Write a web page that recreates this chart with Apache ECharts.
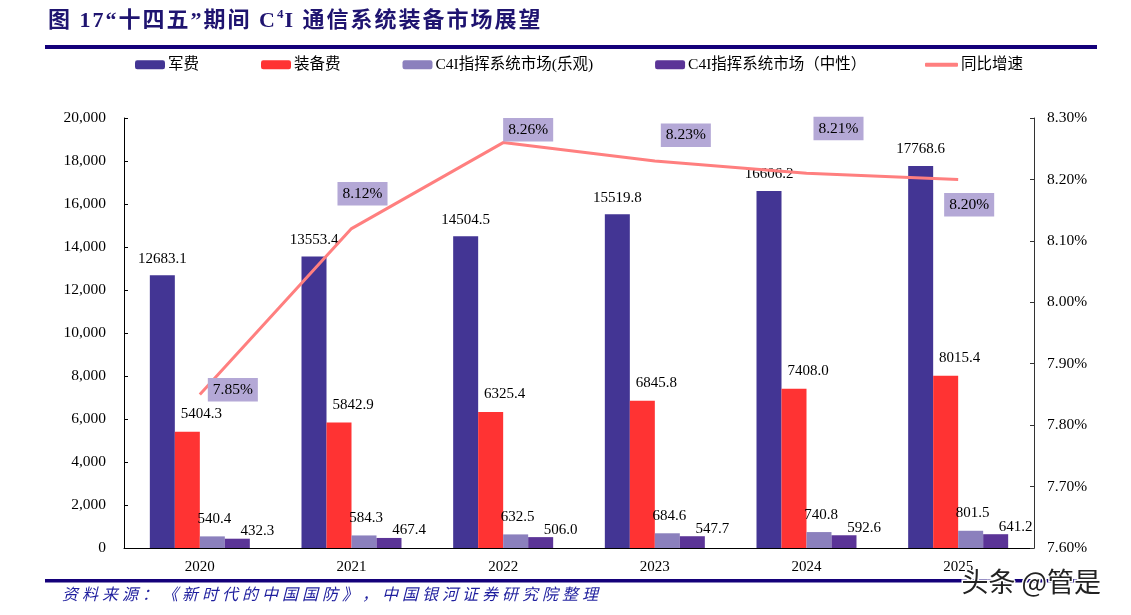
<!DOCTYPE html>
<html>
<head>
<meta charset="utf-8">
<script src="https://cdn.jsdelivr.net/npm/echarts@6/dist/echarts.min.js"></script>
<style>html,body{margin:0;padding:0;background:#fff}#c{width:1131px;height:615px}</style>
</head>
<body>
<div id="c"></div>
<script>
const categories = ['2020','2021','2022','2023','2024','2025'];
const militaryExp = [12683.1, 13553.4, 14504.5, 15519.8, 16606.2, 17768.6];
const equipmentExp = [5404.3, 5842.9, 6325.4, 6845.8, 7408.0, 8015.4];
const c4iOptimistic = [540.4, 584.3, 632.5, 684.6, 740.8, 801.5];
const c4iNeutral = [432.3, 467.4, 506.0, 547.7, 592.6, 641.2];
const yoyGrowth = [7.85, 8.12, 8.26, 8.23, 8.21, 8.20];
const seriesNames = ['军费','装备费','C4I指挥系统市场(乐观)','C4I指挥系统市场（中性）','同比增速'];
const titleBefore = '图 17“十四五”期间 C';
const titleSup = '4';
const titleAfter = 'I 通信系统装备市场展望';
const sourceText = '资料来源：《新时代的中国国防》，中国银河证券研究院整理';
const watermarkText = '头条 @管是';

const serif = "'Liberation Serif','Times New Roman','Noto Sans CJK SC',serif";
const lineLabelOffsets = [[33,12],[11,-18],[25,4],[31,-9],[32,-28],[11,42]];

// spaced rich text: one token per character
const spaced = (s, key) => Array.from(s).map(ch => '{' + key + '|' + ch + '}').join('');

const chart = echarts.init(document.getElementById('c'));
const barLabel = (dx, dist) => ({
  show: true, position: 'top', distance: dist, offset: [dx, 0],
  fontFamily: serif, fontSize: 15, color: '#000',
  formatter: p => p.value.toFixed(1)
});
const legendText = {fontFamily: serif, fontSize: 15.5, color: '#000', padding: [0,0,0,-2]};
chart.setOption({
  animation: false,
  grid: {left: 124, right: 97, top: 118, bottom: 67},
  legend: [{
    left: 135, top: 57, padding: 0, itemWidth: 30, itemHeight: 9, itemGap: 62,
    textStyle: legendText, data: seriesNames.slice(0,4)
  },{
    left: 925, top: 57, padding: 0, itemWidth: 33, itemHeight: 4,
    textStyle: legendText, data: [{name: seriesNames[4], icon: 'roundRect'}]
  }],
  xAxis: {
    type: 'category', data: categories,
    axisLine: {lineStyle: {color: '#000', width: 1}},
    axisTick: {inside: true, length: 5, lineStyle: {color: '#000'}},
    axisLabel: {fontFamily: serif, fontSize: 15, color: '#000', margin: 12}
  },
  yAxis: [{
    type: 'value', min: 0, max: 20000, interval: 2000,
    axisLine: {show: true, lineStyle: {color: '#000'}},
    axisTick: {show: true, inside: true, length: 4, lineStyle: {color: '#000'}},
    splitLine: {show: false},
    axisLabel: {fontFamily: serif, fontSize: 15.5, color: '#000', margin: 18,
      formatter: v => v.toLocaleString('en-US')}
  },{
    type: 'value', min: 7.6, max: 8.3, interval: 0.1,
    axisLine: {show: true, lineStyle: {color: '#333'}},
    axisTick: {show: true, inside: true, length: 4, lineStyle: {color: '#333'}},
    splitLine: {show: false},
    axisLabel: {fontFamily: serif, fontSize: 15.5, color: '#000', margin: 13,
      formatter: v => v.toFixed(2) + '%'}
  }],
  series: [
    {name: seriesNames[0], type: 'bar', data: militaryExp, barWidth: 25, barGap: '0%',
     itemStyle: {color: '#433594'}, label: barLabel(0, 9)},
    {name: seriesNames[1], type: 'bar', data: equipmentExp, barWidth: 25, barGap: '0%',
     itemStyle: {color: '#FF3333'}, label: barLabel(14, 10)},
    {name: seriesNames[2], type: 'bar', data: c4iOptimistic, barWidth: 25, barGap: '0%',
     itemStyle: {color: '#8B80BD'}, label: barLabel(2, 10)},
    {name: seriesNames[3], type: 'bar', data: c4iNeutral, barWidth: 25, barGap: '0%',
     itemStyle: {color: '#5B3497'}, label: barLabel(20, 0)},
    {name: seriesNames[4], type: 'line', yAxisIndex: 1, z: 5,
     data: yoyGrowth.map((v, i) => ({value: v, label: {offset: lineLabelOffsets[i]}})),
     symbol: 'circle', symbolSize: 0, showSymbol: true,
     lineStyle: {color: '#FF7F7F', width: 3}, itemStyle: {color: '#FF7F7F'},
     label: {show: true, position: 'top', distance: 5, fontFamily: serif, fontSize: 15.5,
       color: '#000', backgroundColor: '#B4A8D6', padding: [4, 5, 4, 5],
       formatter: p => p.value.toFixed(2) + '%'}}
  ],
  graphic: [
    {type: 'text', left: 48, top: 8, style: {
      text: spaced(titleBefore, 't') + '{s|' + titleSup + '}' + spaced(titleAfter, 't'),
      rich: {
        t: {fontFamily: serif, fontWeight: 'bold', fontSize: 22, fill: '#1F1470', lineHeight: 26, padding: [0,2,0,0]},
        s: {fontFamily: serif, fontWeight: 'bold', fontSize: 13, fill: '#1F1470', verticalAlign: 'top', lineHeight: 26, padding: [0,1,10,0]}
      }}},
    {type: 'rect', shape: {x: 45, y: 45, width: 1052, height: 4}, style: {fill: '#14007A'}},
    {type: 'rect', shape: {x: 45, y: 579, width: 1052, height: 3.5}, style: {fill: '#14007A'}},
    {type: 'text', left: 62, top: 586, style: {
      text: spaced(sourceText, 'c'),
      rich: {c: {fontFamily: "'Noto Sans CJK SC',sans-serif", fontStyle: 'italic', fontSize: 16,
        fill: '#1E1E9E', padding: [0,4,0,0]}}}},
    {type: 'text', left: 960, top: 567, z: 100, style: {
      text: watermarkText, fontFamily: "'Noto Sans CJK SC',sans-serif", fontSize: 27,
      fill: '#222', stroke: '#fff', lineWidth: 3}}
  ]
});
</script>
</body>
</html>
